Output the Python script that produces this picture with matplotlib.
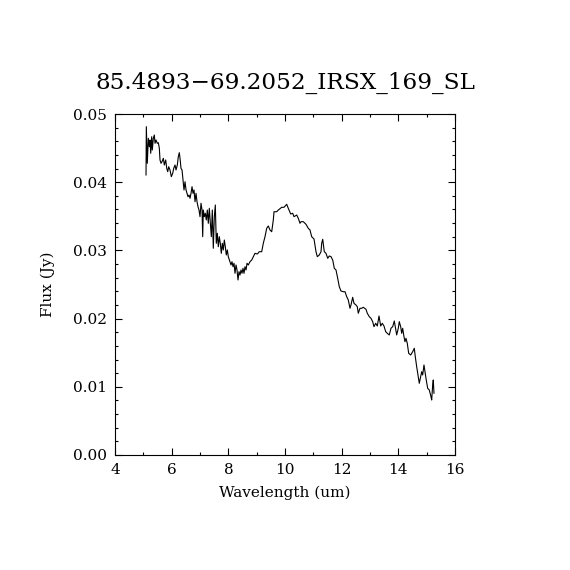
import matplotlib
matplotlib.use("Agg")
from matplotlib import pyplot as plt
from matplotlib.ticker import MultipleLocator, FormatStrFormatter

# spectrum (wavelength in um, flux in Jy)
wave = [5.094, 5.105, 5.140, 5.175, 5.211, 5.235, 5.260, 5.295, 5.316, 5.352,
        5.387, 5.412, 5.447, 5.493, 5.528, 5.564, 5.588, 5.624, 5.659, 5.705,
        5.740, 5.789, 5.825, 5.860, 5.895, 5.941, 5.987, 6.036, 6.072, 6.118,
        6.153, 6.199, 6.234, 6.269, 6.294, 6.329, 6.365, 6.400, 6.435, 6.471,
        6.506, 6.541, 6.576, 6.612, 6.647, 6.682, 6.718, 6.753, 6.788, 6.824,
        6.859, 6.894, 6.929, 6.965, 7.000, 7.035, 7.071, 7.095, 7.116, 7.152,
        7.187, 7.222, 7.258, 7.293, 7.328, 7.364, 7.399, 7.434, 7.469, 7.505,
        7.540, 7.575, 7.611, 7.646, 7.681, 7.716, 7.752, 7.787, 7.822, 7.858,
        7.893, 7.928, 7.964, 7.999, 8.059, 8.094, 8.129, 8.165, 8.200, 8.235,
        8.271, 8.306, 8.341, 8.376, 8.412, 8.447, 8.482, 8.518, 8.553, 8.588,
        8.624, 8.659, 8.705, 8.765, 8.825, 8.881, 8.941, 9.022, 9.093, 9.178,
        9.234, 9.294, 9.354, 9.411, 9.471, 9.531, 9.587, 9.612, 9.707, 9.764,
        9.884, 9.965, 10.060, 10.116, 10.201, 10.272, 10.318, 10.413, 10.469, 10.529,
        10.565, 10.646, 10.741, 10.822, 10.882, 10.942, 11.024, 11.094, 11.140, 11.211,
        11.271, 11.295, 11.331, 11.387, 11.447, 11.508, 11.564, 11.624, 11.684, 11.740,
        11.800, 11.860, 11.916, 11.976, 12.058, 12.118, 12.178, 12.234, 12.294, 12.329,
        12.389, 12.435, 12.506, 12.552, 12.587, 12.647, 12.707, 12.764, 12.859, 12.905,
        12.975, 13.035, 13.095, 13.141, 13.201, 13.258, 13.318, 13.378, 13.434, 13.494,
        13.554, 13.611, 13.681, 13.741, 13.801, 13.858, 13.893, 13.942, 13.999, 14.034,
        14.084, 14.119, 14.154, 14.200, 14.235, 14.271, 14.316, 14.366, 14.436, 14.507,
        14.564, 14.599, 14.648, 14.705, 14.740, 14.789, 14.825, 14.860, 14.906, 14.941,
        14.976, 15.036, 15.093, 15.153, 15.178, 15.213, 15.234, 15.259]

flux = [0.04106, 0.04814, 0.04277, 0.04644, 0.04521, 0.04619, 0.04424, 0.04667, 0.04472, 0.04644,
        0.04692, 0.04570, 0.04619, 0.04570, 0.04579, 0.04497, 0.04326, 0.04277, 0.04301, 0.04350,
        0.04252, 0.04326, 0.04204, 0.04154, 0.04227, 0.04179, 0.04081, 0.04130, 0.04204, 0.04252,
        0.04179, 0.04252, 0.04374, 0.04433, 0.04350, 0.04204, 0.04179, 0.04032, 0.03886, 0.04007,
        0.03886, 0.03837, 0.03787, 0.03812, 0.03764, 0.03837, 0.03934, 0.03837, 0.03886, 0.03714,
        0.03837, 0.03714, 0.03641, 0.03592, 0.03494, 0.03691, 0.03592, 0.03201, 0.03592, 0.03494,
        0.03544, 0.03446, 0.03592, 0.03397, 0.03617, 0.03397, 0.03201, 0.03592, 0.03031, 0.03494,
        0.03666, 0.03104, 0.03251, 0.03054, 0.03201, 0.03104, 0.02957, 0.03104, 0.03006, 0.03152,
        0.03054, 0.02933, 0.03006, 0.02908, 0.02834, 0.02786, 0.02834, 0.02761, 0.02811, 0.02664,
        0.02786, 0.02713, 0.02566, 0.02688, 0.02639, 0.02713, 0.02664, 0.02738, 0.02664, 0.02761,
        0.02713, 0.02811, 0.02786, 0.02834, 0.02859, 0.02908, 0.02957, 0.02947, 0.02981, 0.02981,
        0.03104, 0.03201, 0.03324, 0.03358, 0.03299, 0.03274, 0.03446, 0.03567, 0.03567, 0.03592,
        0.03632, 0.03632, 0.03676, 0.03617, 0.03534, 0.03544, 0.03494, 0.03519, 0.03471, 0.03397,
        0.03421, 0.03421, 0.03383, 0.03324, 0.03299, 0.03201, 0.03167, 0.02981, 0.02908, 0.02933,
        0.02981, 0.03104, 0.03163, 0.02981, 0.02957, 0.02884, 0.02918, 0.02908, 0.02859, 0.02738,
        0.02713, 0.02591, 0.02468, 0.02405, 0.02394, 0.02394, 0.02321, 0.02273, 0.02151, 0.02199,
        0.02312, 0.02224, 0.02199, 0.02175, 0.02078, 0.02151, 0.02151, 0.02166, 0.02136, 0.02078,
        0.02028, 0.02004, 0.01955, 0.01881, 0.01931, 0.01891, 0.02038, 0.01891, 0.01931, 0.01891,
        0.01808, 0.01784, 0.01760, 0.01858, 0.01881, 0.01965, 0.01881, 0.01760, 0.01858, 0.01955,
        0.01881, 0.01784, 0.01858, 0.01735, 0.01661, 0.01711, 0.01638, 0.01491, 0.01466, 0.01515,
        0.01565, 0.01441, 0.01295, 0.01148, 0.01051, 0.01148, 0.01221, 0.01173, 0.01320, 0.01221,
        0.01125, 0.00978, 0.00953, 0.00855, 0.00806, 0.01026, 0.01100, 0.00905]

title = "85.4893\u221269.2052_IRSX_169_SL"

plt.rcParams['font.family'] = ['DejaVu Serif']

fig = plt.figure(figsize=(5.7, 5.7), dpi=100)
ax = fig.add_axes([0.2018, 0.2018, 0.5964, 0.5982])

ax.plot(wave, flux, color="black", linewidth=0.8)

ax.set_xlim(4, 16)
ax.set_ylim(0, 0.05)
ax.xaxis.set_major_locator(MultipleLocator(2))
ax.xaxis.set_minor_locator(MultipleLocator(1))
ax.yaxis.set_major_locator(MultipleLocator(0.01))
ax.yaxis.set_minor_locator(MultipleLocator(0.002))
ax.yaxis.set_major_formatter(FormatStrFormatter('%.2f'))

ax.tick_params(which='both', direction='in', top=True, right=True,
               labelsize=11, width=0.8, colors='black')
ax.tick_params(which='major', length=5, pad=6)
ax.tick_params(which='minor', length=2.5)
for s in ax.spines.values():
    s.set_linewidth(0.8)

ax.set_xlabel("Wavelength (um)", fontsize=11, labelpad=6)
ax.set_ylabel("Flux (Jy)", fontsize=11, labelpad=13)
ax.set_title(title, fontsize=16.7, pad=18)

fig.savefig("out.png", dpi=100, facecolor="white")
